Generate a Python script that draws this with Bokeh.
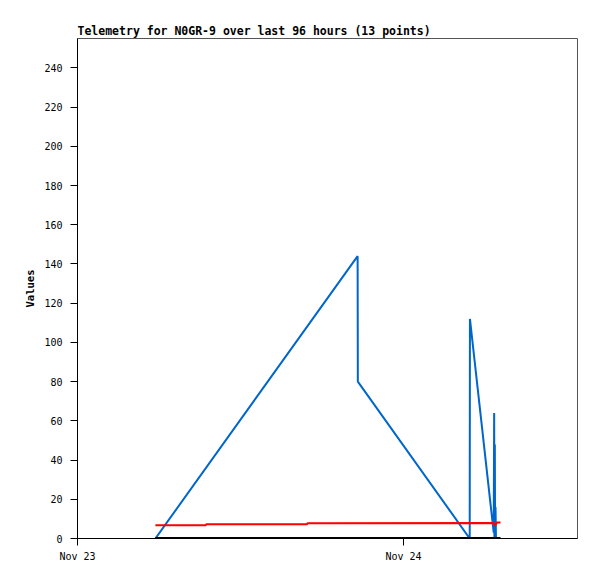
from datetime import datetime
from bokeh.plotting import figure
from bokeh.models import FixedTicker, DatetimeTickFormatter, Range1d
from bokeh.embed import file_html
from bokeh.resources import INLINE

# --- data ---
blue_times = ["2023-11-23 05:44", "2023-11-23 20:37", "2023-11-23 20:38", "2023-11-24 04:52",
              "2023-11-24 04:53", "2023-11-24 06:38", "2023-11-24 06:40", "2023-11-24 06:41",
              "2023-11-24 06:43", "2023-11-24 06:44", "2023-11-24 06:46", "2023-11-24 06:48",
              "2023-11-24 06:50"]
blue_values = [0, 144, 80, 0, 112, 3, 64, 0, 48, 0, 16, 0, 0]

red_times = ["2023-11-23 05:44", "2023-11-23 09:27", "2023-11-23 09:29", "2023-11-23 16:54",
             "2023-11-23 16:56", "2023-11-24 06:38", "2023-11-24 06:44", "2023-11-24 06:52",
             "2023-11-24 07:08"]
red_values = [6.8, 6.8, 7.3, 7.3, 7.8, 7.9, 6.5, 8.2, 8.2]

black_times = ["2023-11-23 05:44", "2023-11-24 07:08"]
black_values = [0, 0]

x_ticks = ["2023-11-23 00:00", "2023-11-24 00:00"]
y_ticks = [0, 20, 40, 60, 80, 100, 120, 140, 160, 180, 200, 220, 240]
title_text = "Telemetry for N0GR-9 over last 96 hours (13 points)"


def to_dt(lst):
    return [datetime.strptime(s, "%Y-%m-%d %H:%M") for s in lst]


def to_ms(lst):
    return [d.timestamp() * 1000 for d in to_dt(lst)]


x0 = datetime(2023, 11, 23, 0, 0)
x1 = datetime(2023, 11, 24, 12, 48)

p = figure(x_axis_type="datetime", output_backend="svg", toolbar_location=None,
           frame_width=500, frame_height=500,
           min_border_left=77, min_border_top=38, min_border_right=12, min_border_bottom=30,
           x_range=Range1d(x0, x1), y_range=Range1d(0, 255),
           title=title_text, background_fill_color="white", border_fill_color="white")

p.title.text_font = "DejaVu Sans Mono"
p.title.text_font_size = "11.5px"
p.title.text_font_style = "bold"
p.title.text_color = "black"
p.title.align = "left"
p.title.offset = 0
p.title.standoff = 1

p.outline_line_color = "#555555"
p.xgrid.visible = False
p.ygrid.visible = False

p.line(to_dt(blue_times), blue_values, line_color="#0066CC", line_width=2)
p.line(to_dt(red_times), red_values, line_color="#FF0000", line_width=2)
p.line(to_dt(black_times), black_values, line_color="black", line_width=3)

p.xaxis.ticker = FixedTicker(ticks=to_ms(x_ticks))
p.xaxis.formatter = DatetimeTickFormatter(days="%b %d", hours="%b %d", months="%b %d")
p.yaxis.ticker = FixedTicker(ticks=y_ticks)
p.yaxis.axis_label = "Values"

for ax in (p.xaxis[0], p.yaxis[0]):
    ax.axis_line_color = "black"
    ax.major_tick_line_color = "black"
    ax.major_tick_out = 7
    ax.major_tick_in = 0
    ax.minor_tick_line_color = None
    ax.major_label_text_font = "DejaVu Sans Mono"
    ax.major_label_text_font_size = "10px"
    ax.major_label_text_color = "black"
    ax.axis_label_text_font = "DejaVu Sans Mono"
    ax.axis_label_text_font_size = "10.5px"
    ax.axis_label_text_font_style = "bold"
    ax.axis_label_text_color = "black"

p.yaxis.major_label_standoff = 8
p.yaxis.axis_label_standoff = 5
p.xaxis.major_label_standoff = 5

open("out.html", "w").write(file_html(p, INLINE))
